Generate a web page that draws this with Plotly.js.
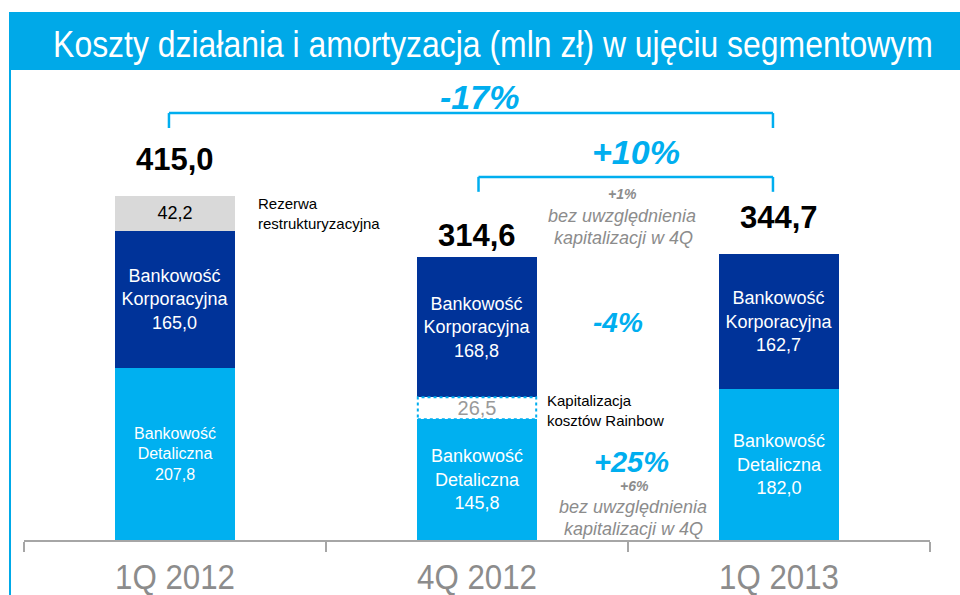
<!DOCTYPE html>
<html>
<head>
<meta charset="utf-8">
<script src="https://cdn.plot.ly/plotly-3.0.1.min.js"></script>
<style>html,body{margin:0;padding:0;background:#fff;}#chart{width:960px;height:595px;}</style>
</head>
<body>
<div id="chart"></div>
<script>
// ---- data ----
const categories = ["1Q 2012", "4Q 2012", "1Q 2013"];
const retail = [207.8, 145.8, 182.0];          // Bankowość Detaliczna
const rainbow = [null, 26.5, null];            // Kapitalizacja kosztów Rainbow
const corporate = [165.0, 168.8, 162.7];       // Bankowość Korporacyjna
const restructuring = [42.2, null, null];      // Rezerwa restrukturyzacyjna
const totals = [415.0, 314.6, 344.7];
const totalLabels = ["415,0", "314,6", "344,7"];
const retailLabels = ["207,8", "145,8", "182,0"];
const corporateLabels = ["165,0", "168,8", "162,7"];
const rainbowLabels = ["", "26,5", ""];
const restructuringLabels = ["42,2", "", ""];

// ---- style ----
const W = 960, H = 595, ML = 24, MR = 30, MT = 75, MB = 55;
const PW = W - ML - MR, PH = H - MT - MB;
const px = x => (x - ML) / PW;
const py = y => (H - MB - y) / PH;
const DARK = "#003399", LIGHT = "#00b0f0", CYAN = "#00aeef", GREY = "#8c8c8c";
const SANS = "Liberation Sans, Arial, sans-serif";
const BW = 0.4;

const fmt = (name, vals) => vals.map(v => "Bankowość<br>" + name + "<br>" + v);

const traces = [
  {type: "bar", x: categories, y: retail, width: BW, marker: {color: LIGHT},
   text: retailLabels.map((v, i) => "Bankowość<br>Detaliczna<br>" + v),
   textposition: "inside", insidetextanchor: "middle", constraintext: "none", textangle: 0,
   insidetextfont: {color: "#fff", family: SANS, size: [16, 18, 18]}, hoverinfo: "skip"},
  {type: "bar", x: categories, y: rainbow, width: BW, marker: {color: "#ffffff"},
   text: rainbowLabels, textposition: "inside", insidetextanchor: "middle", constraintext: "none", textangle: 0,
   insidetextfont: {color: "#999999", family: SANS, size: 20}, hoverinfo: "skip"},
  {type: "bar", x: categories, y: corporate, width: BW, marker: {color: DARK},
   text: fmt("Korporacyjna", corporateLabels), textposition: "inside", insidetextanchor: "middle",
   constraintext: "none", textangle: 0,
   insidetextfont: {color: "#fff", family: SANS, size: 18}, hoverinfo: "skip"},
  {type: "bar", x: categories, y: restructuring, width: BW, marker: {color: "#d9d9d9"},
   text: restructuringLabels, textposition: "inside", insidetextanchor: "middle", constraintext: "none", textangle: 0,
   insidetextfont: {color: "#000", family: SANS, size: 18}, hoverinfo: "skip"}
];

// stack tops computed from the data
const stackTop = categories.map((c, i) =>
  [retail, rainbow, corporate, restructuring].reduce((s, a) => s + (a[i] || 0), 0));

const shapes = [];
// title bar and left border
shapes.push({type: "rect", xref: "paper", yref: "paper", x0: px(9), x1: px(962), y0: py(70), y1: py(12),
  fillcolor: "#00a9e8", line: {width: 0}, layer: "below"});
shapes.push({type: "line", xref: "paper", yref: "paper", x0: px(10), x1: px(10), y0: py(70), y1: py(600),
  line: {color: "#00a9e8", width: 2}});
// dotted outline of the Rainbow segment
rainbow.forEach((v, i) => {
  if (v == null) return;
  shapes.push({type: "rect", xref: "x", yref: "y", x0: i - BW / 2 + 0.004, x1: i + BW / 2 - 0.004,
    y0: retail[i], y1: retail[i] + v, line: {color: CYAN, width: 2, dash: "dot"}, fillcolor: "rgba(0,0,0,0)"});
});
// brackets
function bracket(xa, xb, yTop, yLeg) {
  const L = {color: CYAN, width: 2.5};
  shapes.push({type: "line", xref: "x", yref: "y", x0: xa, x1: xb, y0: yTop, y1: yTop, line: L});
  shapes.push({type: "line", xref: "x", yref: "y", x0: xa, x1: xa, y0: yTop, y1: yLeg, line: L});
  shapes.push({type: "line", xref: "x", yref: "y", x0: xb, x1: xb, y0: yTop, y1: yLeg, line: L});
}
bracket(-0.02, 1.98, 515, 497);
bracket(1.005, 1.98, 438, 420);

const ann = [];
function t(text, x, y, size, opts) {
  ann.push(Object.assign({text: text, xref: "paper", yref: "paper", x: px(x), y: py(y),
    xanchor: "center", yanchor: "middle", showarrow: false,
    font: Object.assign({family: SANS, size: size, color: "#000"}, (opts && opts.font) || {})},
    opts && opts.a || {}));
}
// totals above the bars
categories.forEach((c, i) => {
  ann.push({text: "<b>" + totalLabels[i] + "</b>", x: c, y: stackTop[i], xref: "x", yref: "y",
    yshift: [36, 22, 37][i], xanchor: "center", yanchor: "middle", showarrow: false,
    font: {family: SANS, size: 31, color: "#000"}});
});
t("<b><i>-17%</i></b>", 479, 97, 34, {font: {color: CYAN}});
t("<b><i>+10%</i></b>", 636, 152, 34, {font: {color: CYAN}});
t("<b><i>+1%</i></b>", 622, 194, 14, {font: {color: GREY}});
t("<i>bez uwzględnienia</i>", 622, 216, 18, {font: {color: GREY}});
t("<i>kapitalizacji w 4Q</i>", 623, 238, 18, {font: {color: GREY}});
t("<b><i>-4%</i></b>", 618, 322, 28, {font: {color: CYAN}});
t("<b><i>+25%</i></b>", 631, 462, 29, {font: {color: CYAN}});
t("<b><i>+6%</i></b>", 634, 486, 14, {font: {color: GREY}});
t("<i>bez uwzględnienia</i>", 633, 507, 18, {font: {color: GREY}});
t("<i>kapitalizacji w 4Q</i>", 633, 529, 18, {font: {color: GREY}});
t("Rezerwa<br>restrukturyzacyjna", 256, 213, 15, {a: {xanchor: "left", align: "left"}});
t("Kapitalizacja<br>kosztów Rainbow", 545, 410, 15, {a: {xanchor: "left", align: "left"}});

const layout = {
  width: W, height: H,
  margin: {l: ML, r: MR, t: MT, b: MB},
  paper_bgcolor: "#fff", plot_bgcolor: "#fff",
  barmode: "stack", showlegend: false,
  title: {text: "Koszty działania i amortyzacja (mln zł) w ujęciu segmentowym",
    font: {family: SANS, size: 37, color: "#fff"},
    x: 493 / W, xanchor: "center", y: 1 - 44 / H, yanchor: "middle", xref: "container", yref: "container"},
  xaxis: {type: "category", range: [-0.5, 2.5], showline: true, linecolor: "#a6a6a6", linewidth: 2,
    ticks: "outside", tickson: "boundaries", ticklen: 10, tickwidth: 2, tickcolor: "#a6a6a6",
    ticklabelstandoff: 5,
    tickfont: {family: SANS, size: 35, color: GREY}, showgrid: false, zeroline: false,
    automargin: false, fixedrange: true},
  yaxis: {visible: false, range: [0, PH / 0.829], showgrid: false, zeroline: false, fixedrange: true},
  shapes: shapes,
  annotations: ann
};

// condense a text element horizontally (the reference uses a narrow typeface)
function condense(el, targetWidth) {
  const b = el.getBBox();
  if (!b.width) return;
  const s = targetWidth / b.width;
  const cx = b.x + b.width / 2;
  el.setAttribute("transform", (el.getAttribute("transform") || "") +
    " translate(" + cx + ",0) scale(" + s + ",1) translate(" + (-cx) + ",0)");
}

const gd = document.getElementById("chart");
Plotly.newPlot(gd, traces, layout, {displayModeBar: false, staticPlot: true}).then(() => {
  const title = gd.querySelector("text.gtitle");
  if (title) condense(title, 880);
  gd.querySelectorAll(".xaxislayer-above .xtick text").forEach(el => condense(el, 120));
});
</script>
</body>
</html>
